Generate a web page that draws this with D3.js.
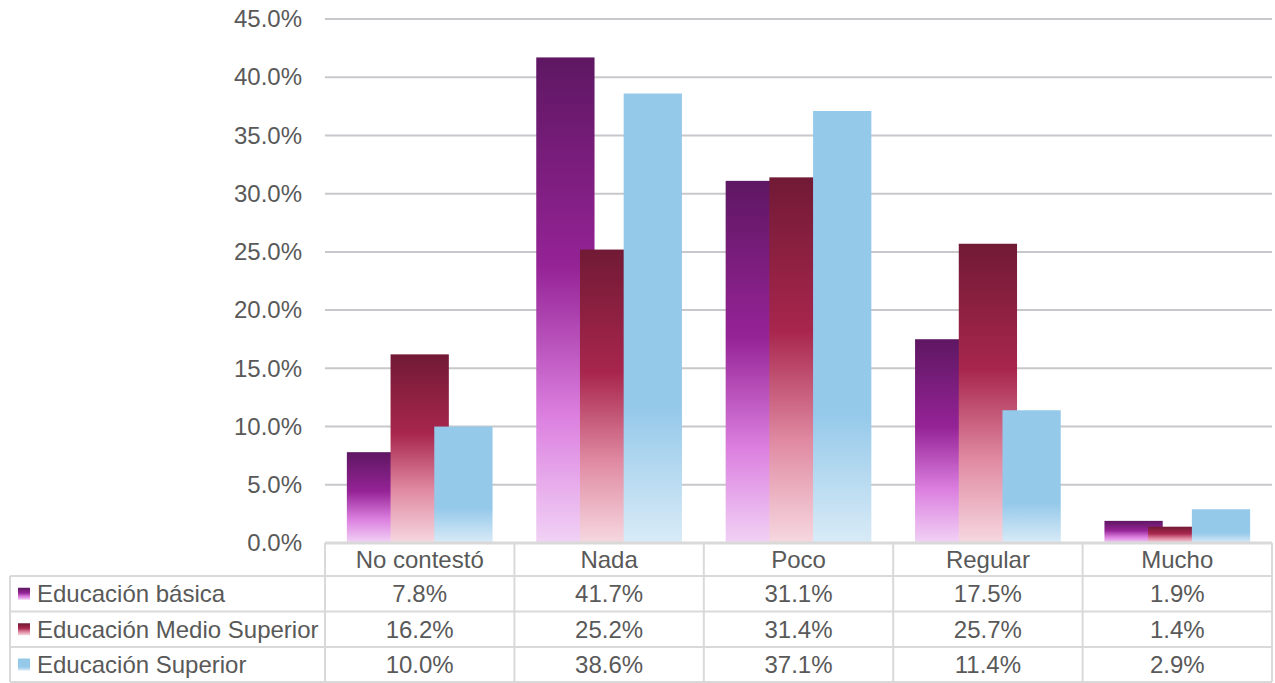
<!DOCTYPE html>
<html>
<head>
<meta charset="utf-8">
<script src="https://cdn.jsdelivr.net/npm/d3@7"></script>
<style>
  html, body { margin: 0; padding: 0; background: #ffffff; }
  svg text { font-family: "Liberation Sans", Arial, sans-serif; fill: #595959; }
</style>
</head>
<body>
<svg id="chart" width="1275" height="683"></svg>
<script>
// Categories and series values (share of respondents)
const categories = ["No contestó", "Nada", "Poco", "Regular", "Mucho"];
const seriesNames = ["Educación básica", "Educación Medio Superior", "Educación Superior"];
const basica = [0.078, 0.417, 0.311, 0.175, 0.019];
const medioSuperior = [0.162, 0.252, 0.314, 0.257, 0.014];
const superior = [0.100, 0.386, 0.371, 0.114, 0.029];
const seriesValues = [basica, medioSuperior, superior];
const yTicks = [0, 0.05, 0.10, 0.15, 0.20, 0.25, 0.30, 0.35, 0.40, 0.45];

// Vertical gradient stops for each series
const gradients = [
  [[0, "#5e1762"], [0.43, "#952396"], [0.74, "#dc80e0"], [1, "#f1d2f5"]],
  [[0, "#711a35"], [0.42, "#a8264d"], [0.72, "#e08aa2"], [1, "#f6d8e0"]],
  [[0, "#95c9ea"], [0.70, "#95c9ea"], [1, "#d9ebf7"]]
];

const svg = d3.select("#chart");
const fmt = d3.format(".1%");
const fontSize = "24px";

const plotLeft = 325, plotRight = 1272, plotTop = 19, plotBottom = 543;
const tableLeft = 10;
const rowEdges = [543, 576, 611.5, 647, 682];

const x = d3.scaleBand().domain(categories).range([plotLeft, plotRight]).padding(0);
const y = d3.scaleLinear().domain([0, 0.45]).range([plotBottom, plotTop]);

// Bar geometry: 75% gap width, 25% overlap between neighbouring series
const gapWidth = 0.75, overlap = 0.25;
const barW = x.bandwidth() / (1 + (seriesNames.length - 1) * (1 - overlap) + gapWidth);
const seriesOffset = d3.scaleLinear()
  .domain([0, seriesNames.length - 1])
  .range([barW * gapWidth / 2, barW * gapWidth / 2 + (seriesNames.length - 1) * barW * (1 - overlap)]);

const defs = svg.append("defs");
gradients.forEach((stops, i) => {
  const g = defs.append("linearGradient")
    .attr("id", "grad" + i)
    .attr("x1", 0).attr("y1", 0).attr("x2", 0).attr("y2", 1);
  stops.forEach(s => g.append("stop").attr("offset", s[0]).attr("stop-color", s[1]));
});

// Horizontal gridlines and y-axis labels
const yAxis = d3.axisLeft(y).tickValues(yTicks).tickFormat(fmt).tickSize(0).tickPadding(23);
const yg = svg.append("g").attr("transform", `translate(${plotLeft},0)`).call(yAxis);
yg.select(".domain").remove();
yg.selectAll("text").style("font-size", fontSize).attr("fill", "#595959");

svg.append("g").selectAll("line")
  .data(yTicks.filter(t => t > 0))
  .join("line")
  .attr("x1", plotLeft).attr("x2", plotRight)
  .attr("y1", d => y(d)).attr("y2", d => y(d))
  .attr("stroke", "#c8c8cc").attr("stroke-width", 2);

// Bars
seriesValues.forEach((vals, i) => {
  svg.append("g").selectAll("rect")
    .data(vals.map((v, j) => ({ cat: categories[j], v })))
    .join("rect")
    .attr("x", d => x(d.cat) + seriesOffset(i))
    .attr("width", barW)
    .attr("y", d => y(d.v))
    .attr("height", d => y(0) - y(d.v))
    .attr("fill", `url(#grad${i})`);
});

// Data table beneath the plot
const border = "#d9d9d9";
const tbl = svg.append("g");

// horizontal rules
tbl.append("line").attr("x1", plotLeft).attr("x2", plotRight)
  .attr("y1", rowEdges[0]).attr("y2", rowEdges[0])
  .attr("stroke", border).attr("stroke-width", 3);
rowEdges.slice(1).forEach(ry => {
  tbl.append("line").attr("x1", tableLeft).attr("x2", plotRight)
    .attr("y1", ry).attr("y2", ry).attr("stroke", border).attr("stroke-width", 2);
});
// vertical rules
const colEdges = categories.map(c => x(c)).concat([plotRight]);
colEdges.forEach(cx => {
  tbl.append("line").attr("x1", cx).attr("x2", cx)
    .attr("y1", rowEdges[0]).attr("y2", rowEdges[4])
    .attr("stroke", border).attr("stroke-width", 2);
});
tbl.append("line").attr("x1", tableLeft).attr("x2", tableLeft)
  .attr("y1", rowEdges[1]).attr("y2", rowEdges[4])
  .attr("stroke", border).attr("stroke-width", 2);

const rowMid = i => (rowEdges[i] + rowEdges[i + 1]) / 2;

// category header row
tbl.selectAll("text.cat")
  .data(categories)
  .join("text")
  .attr("class", "cat")
  .attr("x", d => x(d) + x.bandwidth() / 2)
  .attr("y", rowMid(0))
  .attr("dy", "0.35em")
  .attr("text-anchor", "middle")
  .style("font-size", fontSize)
  .text(d => d);

// legend keys, series names and values
seriesNames.forEach((name, i) => {
  const cy = rowMid(i + 1);
  tbl.append("rect")
    .attr("x", 18).attr("y", cy - 6).attr("width", 12).attr("height", 12)
    .attr("fill", `url(#grad${i})`);
  tbl.append("text")
    .attr("x", 37).attr("y", cy).attr("dy", "0.35em")
    .style("font-size", fontSize)
    .text(name);
  tbl.selectAll(null)
    .data(seriesValues[i])
    .join("text")
    .attr("x", (d, j) => x(categories[j]) + x.bandwidth() / 2)
    .attr("y", cy).attr("dy", "0.35em")
    .attr("text-anchor", "middle")
    .style("font-size", fontSize)
    .text(d => fmt(d));
});
</script>
</body>
</html>
